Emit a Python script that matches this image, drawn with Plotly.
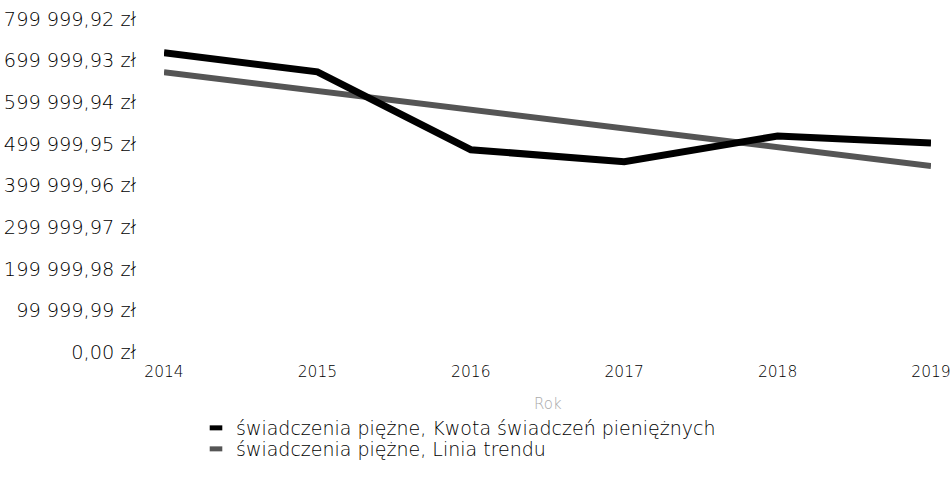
import plotly.graph_objects as go

years = [2014, 2015, 2016, 2017, 2018, 2019]
kwota = [719000, 673000, 486000, 457000, 519000, 502000]
trend = [672000, 627000, 582000, 537000, 492000, 447000]

y_tick_vals = [0, 99999.99, 199999.98, 299999.97, 399999.96, 499999.95, 599999.94, 699999.93, 799999.92]
y_tick_text = ["0,00 zł", "99 999,99 zł", "199 999,98 zł", "299 999,97 zł", "399 999,96 zł",
               "499 999,95 zł", "599 999,94 zł", "699 999,93 zł", "799 999,92 zł"]
x_title = "Rok"

name_kwota = "świadczenia piężne, Kwota świadczeń pieniężnych"
name_trend = "świadczenia piężne, Linia trendu"

c_kwota = "#000000"
c_trend = "#555555"

W, H = 951, 489
L, R, T, B = 164, 20, 19, 137

fig = go.Figure()
fig.add_trace(go.Scatter(x=years, y=trend, mode="lines", line=dict(color=c_trend, width=6),
                         showlegend=False, name=name_trend))
fig.add_trace(go.Scatter(x=years, y=kwota, mode="lines", line=dict(color=c_kwota, width=7),
                         showlegend=False, name=name_kwota))
# legend entries (one legend per row for exact placement)
fig.add_trace(go.Scatter(x=[None], y=[None], mode="markers", name=name_kwota, legend="legend",
                         marker=dict(symbol="line-ew", size=9, line=dict(color=c_kwota, width=5))))
fig.add_trace(go.Scatter(x=[None], y=[None], mode="markers", name=name_trend, legend="legend2",
                         marker=dict(symbol="line-ew", size=9, line=dict(color=c_trend, width=5))))

font_family = "DejaVu Sans"
txt = "#000000"
leg_common = dict(xref="paper", xanchor="left", yref="container", yanchor="top",
                  font=dict(size=19, color=txt, weight=300), bgcolor="rgba(0,0,0,0)",
                  itemclick=False, itemdoubleclick=False)
leg_x = (196 - L) / (W - L - R)
plot_h = H - T - B
fig.update_layout(
    width=W, height=H,
    margin=dict(l=L, r=R, t=T, b=B, autoexpand=False),
    paper_bgcolor="white", plot_bgcolor="white",
    font=dict(family=font_family, color=txt, size=16, weight=300),
    showlegend=True,
    legend=dict(x=leg_x, y=1 - 409 / H, **leg_common),
    legend2=dict(x=leg_x, y=1 - 430 / H, **leg_common),
    xaxis=dict(range=[2014, 2019], tickvals=years, ticktext=[str(y) for y in years],
               showgrid=False, zeroline=False, showline=False, ticks="",
               tickfont=dict(size=15.5, color=txt, weight=300), ticklabelstandoff=8,
               ticklabeloverflow="allow"),
    yaxis=dict(range=[0, 799999.92], tickvals=y_tick_vals, ticktext=y_tick_text,
               showgrid=False, zeroline=False, showline=False, ticks="",
               ticklabeloverflow="allow",
               tickfont=dict(size=19.3, color=txt, weight=300), ticklabelstandoff=27),
    annotations=[dict(text=x_title, xref="paper", x=0.5, xanchor="center",
                      yref="paper", y=-(404 - (H - B)) / plot_h, yanchor="middle",
                      showarrow=False, font=dict(size=15, color="#aaaaaa", weight=300))],
)

fig.write_html("out.html", post_script="document.body.style.margin='0';",
               config={"displayModeBar": False})
